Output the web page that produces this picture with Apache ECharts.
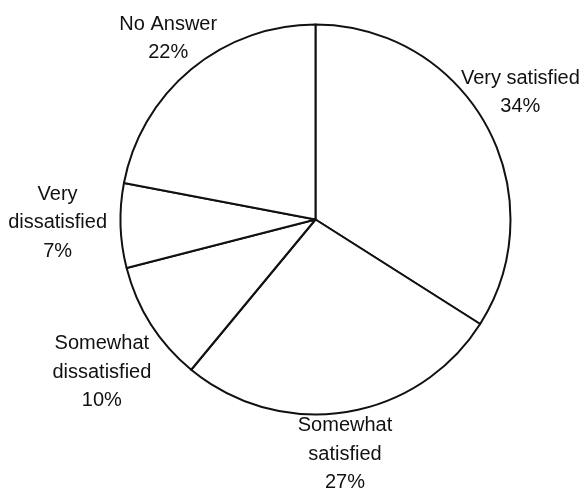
<!DOCTYPE html>
<html>
<head>
<meta charset="utf-8">
<script src="https://cdn.jsdelivr.net/npm/echarts@6/dist/echarts.min.js"></script>
<style>
	html, body { margin: 0; padding: 0; background: #fff; }
	#chart { width: 582px; height: 493px; }
</style>
</head>
<body>
<div id="chart"></div>
<script>
// 满意度数据
const categories = ['Very satisfied', 'Somewhat\nsatisfied', 'Somewhat\ndissatisfied', 'Very\ndissatisfied', 'No Answer'];
const values = [34, 27, 10, 7, 22];

// 饼图几何
const center = [315.5, 219.5];
const radius = 195;
// 标签相对于扇区外缘中点的偏移
const labelNudge = [[34, -33], [-1, 42], [-49, 48], [-63, -3], [-23, -31]];

const total = values.reduce(function(a, b) { return a + b; }, 0);

const dom = document.getElementById('chart');
const myChart = echarts.init(dom, null, { renderer: 'canvas' });

var option = {
	animation: false,
	backgroundColor: '#fff',
	series: [{
		type: 'pie',
		center: center,
		radius: radius,
		startAngle: 90,
		clockwise: true,
		avoidLabelOverlap: false,
		silent: true,
		data: categories.map(function(name, i) {
			return { name: name, value: values[i] };
		}),
		itemStyle: {
			color: '#fff',
			borderColor: '#111',
			borderWidth: 2
		},
		label: {
			show: true,
			position: 'outside',
			color: '#111',
			fontFamily: "'Liberation Sans', Arial, sans-serif",
			fontSize: 20,
			lineHeight: 28.5,
			align: 'center',
			formatter: function(p) {
				return p.name + '\n' + p.value + '%';
			}
		},
		labelLine: { show: false, length: 0, length2: 0 },
		emphasis: { disabled: true },
		labelLayout: function(params) {
			// 扇区中线方向上的外缘点
			let i = params.dataIndex;
			let before = 0;
			for (let k = 0; k < i; k++) before += values[k];
			let mid = (before + values[i] / 2) / total * Math.PI * 2;
			let x = center[0] + radius * Math.sin(mid) + labelNudge[i][0];
			let y = center[1] - radius * Math.cos(mid) + labelNudge[i][1];
			return { x: x, y: y, align: 'center', verticalAlign: 'middle' };
		}
	}]
};
myChart.setOption(option);
</script>
</body>
</html>
